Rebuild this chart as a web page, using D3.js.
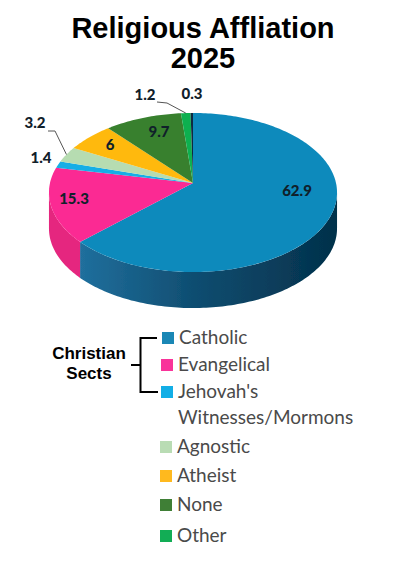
<!DOCTYPE html>
<html>
<head>
<meta charset="utf-8">
<script src="https://cdn.jsdelivr.net/npm/d3@7"></script>
<style>
	html, body {margin: 0; padding: 0; background: #fff;}
	svg {display: block;}
</style>
</head>
<body>
<div id="viz-container"></div>
<script>
const sliceNames = ['Catholic', 'Evangelical', "Jehovah's Witnesses/Mormons", 'Agnostic', 'Atheist', 'None', 'Other', 'Unlabeled']
const sliceValues = [62.9, 15.3, 1.4, 3.2, 6, 9.7, 1.2, 0.3]
const sliceLabels = ['62.9', '15.3', '1.4', '3.2', '6', '9.7', '1.2', '0.3']
const sliceColors = ['#0d8abc', '#fb2a93', '#12aee6', '#b6dcb1', '#ffb90f', '#38802f', '#0eb04f', '#0a2c40']

const legendNames = ['Catholic', 'Evangelical', "Jehovah's", 'Agnostic', 'Atheist', 'None', 'Other']
const legendColors = ['#1a87b5', '#f9339a', '#12aee6', '#b9dcb4', '#ffb91e', '#3f7f36', '#12ad55']
const legendRowY = [338, 365, 392, 447, 476, 505, 536]
const legendSwatchX = [162, 161, 161, 160, 160, 160, 160]

// where the labels sit, the original has them placed by hand
const labelX = [297, 74, 41, 35, 110, 159, 145, 192]
const labelY = [192, 200, 159, 124, 146, 133, 96, 95]

const width = 396
const height = 565

let svg = d3.select('#viz-container')
	.append('svg')
	.attr('width', width)
	.attr('height', height)

// the pie is a tilted disc, the project function gives it its perspective
const apex = {x: 193, y: 183}
const radiusX = 143
const radiusY = 78.4
const tilt = 0.1195
const depth = 36

function project(angle, r) {
	let X = r * Math.sin(angle)
	let Y = -r * Math.cos(angle)
	let w = 1 - tilt * Y
	return [apex.x + radiusX * X / w, apex.y + radiusY * Y / w]
}

function arcPoints(a0, a1, offset) {
	let n = Math.max(2, Math.ceil((a1 - a0) / 0.02))
	return d3.range(n + 1).map(i => {
		let p = project(a0 + (a1 - a0) * i / n, 1)
		return [p[0], p[1] + offset]
	})
}

const pie = d3.pie().sort(null).startAngle(0).endAngle(2 * Math.PI)
const slices = pie(sliceValues)
const line = d3.line()

let defs = svg.append('defs')
defs.append('filter').attr('id', 'soft')
	.append('feGaussianBlur').attr('stdDeviation', 0.45)

let wallGradient = defs.append('linearGradient')
	.attr('id', 'wallBlue')
	.attr('gradientUnits', 'userSpaceOnUse')
	.attr('x1', 80).attr('x2', 338)
	.attr('y1', 0).attr('y2', 0)
wallGradient.append('stop').attr('offset', '0%').attr('stop-color', '#206f9d')
wallGradient.append('stop').attr('offset', '45%').attr('stop-color', '#0f4d70')
wallGradient.append('stop').attr('offset', '100%').attr('stop-color', '#03304a')

let pieGroup = svg.append('g').attr('filter', 'url(#soft)')

// side wall, only the part that faces the viewer
const wallStart = Math.acos(-tilt)
const wallEnd = 2 * Math.PI - wallStart
slices.forEach((d, i) => {
	let a0 = Math.max(d.startAngle, wallStart)
	let a1 = Math.min(d.endAngle, wallEnd)
	if (a1 <= a0) return
	let top = arcPoints(a0, a1, 0)
	let bottom = arcPoints(a0, a1, depth).reverse()
	pieGroup.append('path')
		.attr('d', line(top.concat(bottom)) + 'Z')
		.attr('fill', i === 0 ? 'url(#wallBlue)' : '#e5267f')
})

// top face
pieGroup.selectAll('path.slice')
	.data(slices)
	.enter()
	.append('path')
	.attr('class', 'slice')
	.attr('d', d => line([[apex.x, apex.y]].concat(arcPoints(d.startAngle, d.endAngle, 0))) + 'Z')
	.attr('fill', (d, i) => sliceColors[i])

// leader lines for 3.2 and 1.2
const midAngle = d => (d.startAngle + d.endAngle) / 2
const leaders = [
	{slice: 3, points: [[48, 131], [55, 131]]},
	{slice: 6, points: [[157, 102], [167, 103]]}
]
leaders.forEach(l => {
	svg.append('path')
		.attr('d', line(l.points.concat([project(midAngle(slices[l.slice]), 1)])))
		.attr('fill', 'none')
		.attr('stroke', '#555')
		.attr('stroke-width', 1)
})

// value labels
svg.selectAll('text.value')
	.data(sliceLabels)
	.enter()
	.append('text')
	.attr('class', 'value')
	.attr('x', (d, i) => labelX[i])
	.attr('y', (d, i) => labelY[i])
	.attr('text-anchor', 'middle')
	.attr('dominant-baseline', 'middle')
	.style('font-family', 'Lato, sans-serif')
	.style('font-weight', 900)
	.style('font-size', '15px')
	.style('fill', '#10202a')
	.text(d => d)

// title
svg.selectAll('text.title')
	.data(['Religious Affliation', '2025'])
	.enter()
	.append('text')
	.attr('class', 'title')
	.attr('x', 203)
	.attr('y', (d, i) => 38 + i * 30)
	.attr('text-anchor', 'middle')
	.style('font-family', '"Liberation Sans", Arial, sans-serif')
	.style('font-weight', 700)
	.style('font-size', '29px')
	.style('fill', '#000')
	.text(d => d)

// legend
let legend = svg.append('g')
legend.selectAll('rect')
	.data(legendNames)
	.enter()
	.append('rect')
	.attr('x', (d, i) => legendSwatchX[i])
	.attr('y', (d, i) => legendRowY[i] - 6)
	.attr('width', 12)
	.attr('height', 12)
	.attr('fill', (d, i) => legendColors[i])

legend.selectAll('text')
	.data(legendNames)
	.enter()
	.append('text')
	.attr('x', (d, i) => legendSwatchX[i] + 17)
	.attr('y', (d, i) => legendRowY[i] + 6)
	.style('font-family', 'Lato, sans-serif')
	.style('font-size', '19px')
	.style('fill', '#4a4a4a')
	.text(d => d)

legend.append('text')
	.attr('x', 178)
	.attr('y', 424)
	.style('font-family', 'Lato, sans-serif')
	.style('font-size', '19px')
	.style('fill', '#4a4a4a')
	.text('Witnesses/Mormons')

// bracket around the christian sects
svg.append('path')
	.attr('d', 'M157,338 H140.5 V392 H158 M131,365 H140.5')
	.attr('fill', 'none')
	.attr('stroke', '#000')
	.attr('stroke-width', 2)

svg.selectAll('text.sects')
	.data(['Christian', 'Sects'])
	.enter()
	.append('text')
	.attr('class', 'sects')
	.attr('x', 89)
	.attr('y', (d, i) => 359 + i * 20)
	.attr('text-anchor', 'middle')
	.style('font-family', '"Liberation Sans", Arial, sans-serif')
	.style('font-weight', 700)
	.style('font-size', '17px')
	.style('fill', '#000')
	.text(d => d)
</script>
</body>
</html>
